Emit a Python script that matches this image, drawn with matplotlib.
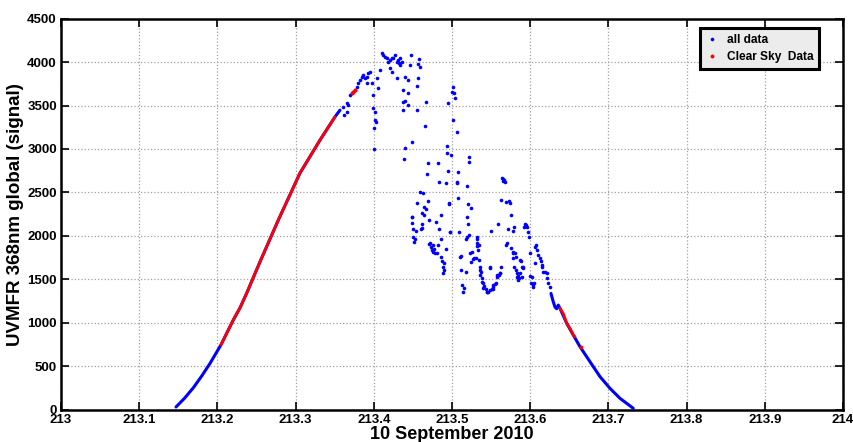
import numpy as np
import matplotlib
matplotlib.use("Agg")
import matplotlib.pyplot as plt

# UVMFR 368nm global signal, 10 September 2010 (day of year as fraction)

# smooth morning branch (all data)
rise_x = [213.1471, 213.1580, 213.1692, 213.1799, 213.1905, 213.2046, 213.2203, 213.2289,
          213.2375, 213.2545, 213.2779, 213.3056, 213.3312, 213.3504, 213.3568]
rise_y = [29, 130, 250, 385, 530, 745, 1030, 1170, 1340, 1701, 2181, 2722, 3102, 3370, 3447]

# smooth afternoon branch (all data)
fall_x = [213.6266, 213.6283, 213.6295, 213.6317, 213.6338, 213.6359, 213.6381, 213.6467,
          213.6551, 213.6637, 213.6765, 213.6893, 213.7020, 213.7148, 213.7318]
fall_y = [1337, 1280, 1241, 1180, 1160, 1203, 1165, 992, 858, 723, 550, 378, 244, 129, 14]

# cloudy middle of the day (all data, scattered points)
cloud_x = [213.3610, 213.3653, 213.3674, 213.3696, 213.3781, 213.3802, 213.3824, 213.3845,
           213.3866, 213.3887, 213.3909, 213.3930, 213.3951, 213.3909, 213.3973, 213.3994,
           213.3994, 213.4015, 213.4058, 213.4037, 213.4079, 213.4101, 213.4122, 213.4143,
           213.4165, 213.4185, 213.4207, 213.4229, 213.4249, 213.4271, 213.4293, 213.4313,
           213.4335, 213.4326, 213.4357, 213.4472, 213.4578, 213.4569, 213.4207, 213.4229,
           213.4293, 213.4335, 213.4463, 213.4591, 213.4399, 213.4441, 213.4377, 213.4561,
           213.4556, 213.4377, 213.4434, 213.4399, 213.4441, 213.4377, 213.4549, 213.4668,
           213.4488, 213.4399, 213.4386, 213.4659, 213.4697, 213.4684, 213.4825, 213.4015,
           213.4028, 213.4006, 213.4003, 213.5017, 213.5026, 213.4996, 213.5038, 213.4953,
           213.5009, 213.5060, 213.4932, 213.4940, 213.4983, 213.5221, 213.5214, 213.4953,
           213.5081, 213.4834, 213.4927, 213.5060, 213.5068, 213.5196, 213.4591, 213.4633,
           213.4549, 213.4689, 213.4958, 213.5077, 213.4488, 213.4492, 213.4540, 213.4501,
           213.4604, 213.4620, 213.4646, 213.4671, 213.4613, 213.4646, 213.4710, 213.4792,
           213.4856, 213.4838, 213.4971, 213.4505, 213.4523, 213.4518, 213.4856, 213.5196,
           213.5205, 213.5086, 213.5188, 213.5316, 213.5324, 213.5316, 213.4710, 213.4728,
           213.4761, 213.4825, 213.4740, 213.4753, 213.4783, 213.4770, 213.4812, 213.4863,
           213.4876, 213.4898, 213.4923, 213.4889, 213.4898, 213.4889, 213.5102, 213.5111,
           213.5179, 213.5230, 213.5252, 213.5285, 213.5265, 213.5316, 213.5336, 213.5307,
           213.5341, 213.5358, 213.5367, 213.5358, 213.5380, 213.5400, 213.5413, 213.5435,
           213.5444, 213.5464, 213.5486, 213.5512, 213.5528, 213.5520, 213.5550, 213.5559,
           213.5579, 213.5597, 213.5614, 213.5623, 213.5490, 213.5499, 213.5592, 213.5716,
           213.5793, 213.5776, 213.5699, 213.5691, 213.5751, 213.5776, 213.5806, 213.5784,
           213.5797, 213.5818, 213.5827, 213.5840, 213.5861, 213.5891, 213.5904, 213.5912,
           213.5879, 213.5636, 213.5656, 213.5678, 213.5648, 213.5665, 213.5631, 213.5691,
           213.5725, 213.5742, 213.5754, 213.5930, 213.5942, 213.5955, 213.5925, 213.5976,
           213.5989, 213.6019, 213.6010, 213.6032, 213.6049, 213.6065, 213.6083, 213.6104,
           213.6125, 213.6142, 213.6065, 213.6151, 213.6155, 213.6168, 213.6189, 213.6211,
           213.6211, 213.6232, 213.6253, 213.5997, 213.6074, 213.5870, 213.5891, 213.5997,
           213.6040, 213.5614, 213.5572, 213.5486, 213.5444, 213.5528, 213.5358, 213.5380,
           213.5400, 213.5784, 213.5818, 213.5870, 213.5827, 213.5848, 213.5239, 213.5115,
           213.5128, 213.5145, 213.5157, 213.5175, 213.5239, 213.4966, 213.5200, 213.4613,
           213.4719, 213.4974, 213.5345, 213.4486, 213.5215, 213.3653, 213.3623, 213.3717,
           213.3738, 213.3760]
cloud_y = [3485, 3524, 3505, 3620, 3715, 3755, 3795, 3830, 3850, 3812, 3830, 3870, 3881, 3755,
           3755, 3620, 3467, 3428, 3697, 3812, 3908, 4100, 4080, 4061, 4042, 4003, 4023, 4042,
           4042, 4080, 4003, 4023, 4042, 3985, 4003, 4080, 4031, 3977, 3927, 3888, 3812, 3965,
           3965, 3946, 3831, 3792, 3677, 3812, 3727, 3543, 3639, 3551, 3505, 3447, 3447, 3536,
           3082, 3006, 2883, 3263, 2834, 2711, 2841, 3332, 3313, 3237, 2995, 3715, 3640, 3658,
           3582, 3524, 3332, 3197, 3033, 2949, 2929, 2903, 2845, 2745, 2737, 2622, 2604, 2615,
           2604, 2572, 2507, 2488, 2373, 2400, 2373, 2438, 2212, 2143, 2058, 2078, 2074, 2093,
           2334, 2308, 2258, 2239, 2181, 2162, 2239, 2074, 2043, 1989, 1959, 1931, 1966, 2219,
           2135, 2043, 1982, 1989, 1959, 1920, 1905, 1867, 1893, 1893, 1836, 1816, 1798, 1844,
           1798, 1759, 1709, 1690, 1844, 1637, 1606, 1575, 1752, 1767, 1959, 1798, 1816, 1740,
           1729, 1882, 1836, 1740, 1721, 1644, 1586, 1548, 1510, 1453, 1421, 1383, 1349, 1349,
           1375, 1390, 1413, 1384, 1444, 1459, 1529, 1545, 1575, 1644, 1637, 2058, 2135, 2074,
           2097, 2058, 1920, 1893, 1855, 1798, 1798, 1740, 1644, 1606, 1568, 1537, 1510, 1529,
           1625, 1644, 1709, 2661, 2634, 2622, 2650, 2642, 2411, 2388, 2403, 2380, 2239, 2132,
           2124, 2104, 2097, 2046, 1989, 1529, 1453, 1433, 1453, 1874, 1836, 1778, 1740, 1713,
           1690, 1663, 1637, 1586, 1586, 1568, 1510, 1453, 1413, 1805, 1893, 1721, 1644, 1537,
           1413, 1568, 1548, 1625, 1356, 1433, 1606, 1471, 1395, 1816, 1759, 1568, 1529, 1491,
           2316, 1606, 1433, 1356, 1395, 1586, 1701, 2365, 2365, 2135, 1913, 2046, 1893, 2219,
           2008, 3428, 3390, 3643, 3658, 3677]

# clear sky subsets
clear_rise_x = [213.2046, 213.2203, 213.2289, 213.2375, 213.2545, 213.2779, 213.3056,
                213.3312, 213.3504]
clear_rise_y = [745, 1030, 1170, 1340, 1701, 2181, 2722, 3102, 3370]
clear_peak_x = [213.3717, 213.3738, 213.3760]
clear_peak_y = [3643, 3658, 3677]
clear_fall_x = [213.6381, 213.6423, 213.6467, 213.6509, 213.6551, 213.6573]
clear_fall_y = [1165, 1107, 992, 935, 858, 838]
clear_dot_x = [213.6646]
clear_dot_y = [723]

xticks = np.arange(213, 214.01, 0.1)
xlabels = ['213', '213.1', '213.2', '213.3', '213.4', '213.5', '213.6', '213.7',
           '213.8', '213.9', '214']
yticks = np.arange(0, 4501, 500)

fnt = ['Liberation Sans', 'DejaVu Sans']
blue = '#0000ff'
red = '#ff0000'

fig = plt.figure(figsize=(8.54, 4.42), dpi=100)
ax = fig.add_axes([0.0714, 0.0735, 0.9157, 0.8842])

ax.plot(rise_x, rise_y, '-', color=blue, lw=2.2, solid_capstyle='round', zorder=3)
ax.plot(fall_x, fall_y, '-', color=blue, lw=2.2, solid_capstyle='round', zorder=3)
ax.plot(cloud_x, cloud_y, 'o', color=blue, ms=2.6, mew=0, zorder=3, label='all data')
ax.plot(clear_rise_x, clear_rise_y, '-', color=red, lw=2.0, solid_capstyle='round', zorder=4)
ax.plot(clear_fall_x, clear_fall_y, '-', color=red, lw=2.0, solid_capstyle='round', zorder=4)
ax.plot(clear_peak_x + clear_dot_x, clear_peak_y + clear_dot_y, 'o', color=red, ms=2.8,
        mew=0, zorder=4, label='Clear Sky  Data')

ax.set_xlim(213, 214)
ax.set_ylim(0, 4500)
ax.set_xticks(xticks)
ax.set_xticklabels(xlabels)
ax.set_yticks(yticks)
ax.grid(True, linestyle=':', color='#a0a0a0', lw=0.9)
ax.tick_params(direction='in', length=6, width=1.2, top=True, right=True, pad=3)
for lab in ax.get_xticklabels() + ax.get_yticklabels():
    lab.set_family(fnt)
    lab.set_fontweight('bold')
    lab.set_fontsize(9.5)
for s in ax.spines.values():
    s.set_linewidth(1.8)

ax.set_xlabel('10 September 2010', family=fnt, fontweight='bold', fontsize=13, labelpad=0)
ax.set_ylabel('UVMFR 368nm global (signal)', family=fnt, fontweight='bold', fontsize=13.5,
              labelpad=2)

leg = ax.legend(loc='upper right', bbox_to_anchor=(0.9697, 0.9754), borderaxespad=0,
                prop={'family': fnt, 'weight': 'bold', 'size': 8.6}, markerscale=1.0,
                handlelength=1.0, handletextpad=0.7, fancybox=False, framealpha=1,
                facecolor='#ececec', edgecolor='black', borderpad=0.5, labelspacing=0.4)
leg.get_frame().set_linewidth(2.2)

fig.savefig('out.png', dpi=100)
